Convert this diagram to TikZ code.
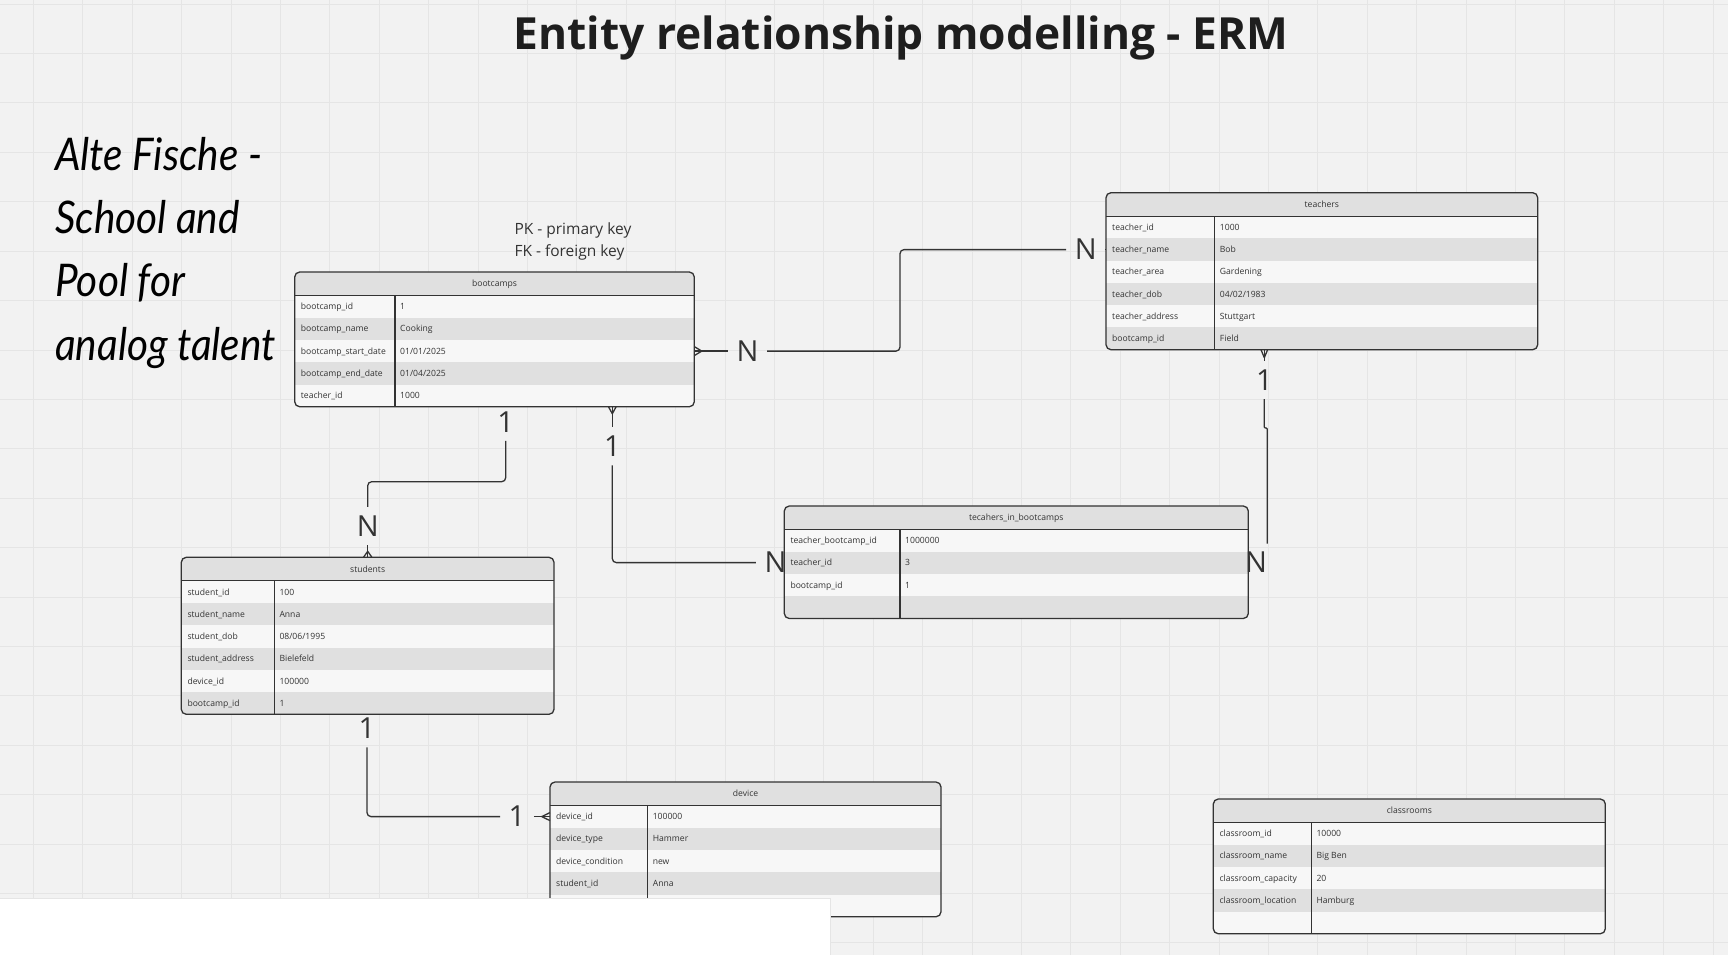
\documentclass[tikz,border=0pt]{standalone}
\usepackage{fontspec}
\setmainfont{Open Sans}
\newfontfamily\handfont{Lato}[FakeStretch=0.9]

\definecolor{canvas}{HTML}{F2F2F2}
\definecolor{gridgray}{HTML}{E5E5E5}
\definecolor{headgray}{HTML}{E0E0E0}
\definecolor{rowlight}{HTML}{F7F7F7}
\definecolor{rowdark}{HTML}{E0E0E0}
\definecolor{inkgray}{HTML}{333333}
\definecolor{titleink}{HTML}{1E1E1E}

% table: name, left, top, right, key column, rows, title, key/value list
\newcommand{\erdtable}[8]{%
  \pgfmathsetmacro{\erdhead}{#3+23.5}
  \pgfmathsetmacro{\erdbot}{#3+23.5+22.25*#6}
  \pgfmathsetmacro{\erdw}{#4-#2}
  \pgfmathsetmacro{\erdh}{23.5+22.25*#6}
  \begin{scope}
    \clip[rounded corners=5pt] (#2,#3) rectangle (#4,\erdbot);
    \fill[rowlight] (#2,\erdhead) rectangle (#4,\erdbot);
    \fill[headgray] (#2,#3) rectangle (#4,\erdhead);
    \foreach \erdkey/\erdval [count=\rowno] in {#8} {
      \ifodd\rowno\relax\else
        \fill[rowdark] (#2,{\erdhead+22.25*(\rowno-1)}) rectangle (#4,{\erdhead+22.25*\rowno});
      \fi
    }
  \end{scope}
  \node[tablebox, minimum width=\erdw pt, minimum height=\erdh pt, anchor=north west] (#1) at (#2,#3) {};
  \draw[tableline] (#2,\erdhead) -- (#4,\erdhead);
  \draw[tableline] (#5,\erdhead) -- (#5,\erdbot);
  \node[headtext] (#1-title) at ({(#2+#4)/2},#3+11.75) {#7};
  \foreach \erdkey/\erdval [count=\rowno] in {#8} {
    \node[cell] (#1-\rowno) at (#2+6,{\erdhead+22.25*(\rowno-0.5)}) {\erdkey};
    \node[cell] (#1-\rowno-v) at (#5+5,{\erdhead+22.25*(\rowno-0.5)}) {\erdval};
  }
}

\begin{document}
\begin{tikzpicture}[x=1pt,y=-1pt]
\tikzstyle{gridline}=[draw=gridgray, line width=1pt]
\tikzstyle{tablebox}=[draw=inkgray, line width=1.3pt, rounded corners=5pt, inner sep=0pt, outer sep=0pt]
\tikzstyle{tableline}=[draw=inkgray, line width=1.3pt]
\tikzstyle{cell}=[anchor=west, inner sep=0pt, text=inkgray, font=\fontsize{8.6}{10}\selectfont, text height=6.2pt, text depth=0pt]
\tikzstyle{headtext}=[cell, anchor=center]
\tikzstyle{card}=[text=inkgray, inner sep=8.5pt, font=\fontsize{29}{29}\selectfont]
\tikzstyle{conn}=[draw=inkgray, line width=1.3pt, rounded corners=4pt]

\useasboundingbox (0,0) rectangle (1728,955);
\fill[canvas] (0,0) rectangle (1728,955);
\foreach \gx in {0,...,34} \draw[gridline] ({33.5+49.4*\gx},0) -- ({33.5+49.4*\gx},955);
\foreach \gy in {0,...,19} \draw[gridline] (0,{4.2+49.4*\gy}) -- (1728,{4.2+49.4*\gy});

\erdtable{bootcamps}{294.7}{272}{694.3}{395}{5}{bootcamps}{bootcamp\_id/1, bootcamp\_name/Cooking, bootcamp\_start\_date/{01/01/2025}, bootcamp\_end\_date/{01/04/2025}, teacher\_id/1000}
\erdtable{teachers}{1106}{192.7}{1537.7}{1214.7}{6}{teachers}{teacher\_id/1000, teacher\_name/Bob, teacher\_area/Gardening, teacher\_dob/{04/02/1983}, teacher\_address/Stuttgart, bootcamp\_id/Field}
\erdtable{students}{181.3}{557.3}{554}{274.3}{6}{students}{student\_id/100, student\_name/Anna, student\_dob/{08/06/1995}, student\_address/Bielefeld, device\_id/100000, bootcamp\_id/1}
\erdtable{tib}{784.3}{506}{1248.3}{900}{4}{tecahers\_in\_bootcamps}{teacher\_bootcamp\_id/1000000, teacher\_id/3, bootcamp\_id/1, {}/{}}
\erdtable{device}{550}{782}{941}{647.6}{5}{device}{device\_id/100000, device\_type/Hammer, device\_condition/new, student\_id/Anna, {}/{}}
\erdtable{classrooms}{1213.3}{799}{1605.3}{1311.3}{5}{classrooms}{classroom\_id/10000, classroom\_name/Big Ben, classroom\_capacity/20, classroom\_location/Hamburg, {}/{}}

% cardinalities
\node[card] (nB) at (747.5,351.1) {N};
\node[card] (nT) at (1085.7,249.6) {N};
\node[card] (oneA) at (505.7,421.7) {1};
\node[card] (nS) at (367.7,526) {N};
\node[card] (oneB) at (612.3,446.3) {1};
\node[card] (nL) at (775.6,562.6) {N};
\node[card] (oneC) at (1264.3,380) {1};
\node[card] (nR) at (1256,562.6) {N};
\node[card] (oneD) at (367,728.3) {1};
\node[card] (oneE) at (517,816.6) {1};
\coordinate (jogR) at (1267.3,428);

% bootcamps - teachers
\draw[conn] (nB -| bootcamps.east) -- (nB);
\draw[conn] (nB) -| (900,300) |- (nT);
\draw[conn] (nT) -- (nT -| teachers.west);
\draw[conn, shift={(nB -| bootcamps.east)}] (7.5,0) -- (0,-4.5) (7.5,0) -- (0,4.5);

% bootcamps - students
\draw[conn] (oneA) -- (505.7,481.7) -| (nS);
\draw[conn] (nS) -- (nS |- students.north);
\draw[conn, shift={(nS |- students.north)}] (0,-6) -- (-4.2,0) (0,-6) -- (4.2,0);

% bootcamps - tecahers_in_bootcamps
\draw[conn] (oneB |- bootcamps.south) -- (oneB);
\draw[conn] (oneB) |- (nL);
\draw[conn, shift={(oneB |- bootcamps.south)}] (0,7) -- (-3.8,0) (0,7) -- (3.8,0);

% teachers - tecahers_in_bootcamps
\draw[conn] (oneC |- teachers.south) -- (oneC);
\draw[conn, rounded corners=1pt] (oneC) -- (1264.3,428) -- (jogR) -- (jogR |- nR.north);
\draw[conn, shift={(oneC |- teachers.south)}] (0,8) -- (-3.3,0) (0,8) -- (3.3,0);

% students - device
\draw[conn] (oneD) |- (oneE);
\draw[conn] (oneE) -- (oneE -| device.west);
\draw[conn, shift={(oneE -| device.west)}] (-8.3,0) -- (0,-4) (-8.3,0) -- (0,4);

% white panel bottom left
\fill[white] (0,897.7) rectangle (830.6,960);
\draw[gridgray] (0,897.7) -- (830.6,897.7) -- (830.6,955);

% texts
\node[anchor=base, text=titleink, font=\bfseries\fontsize{44.3}{50}\selectfont] (title) at (901,49.3) {Entity relationship modelling - ERM};
\node[anchor=base west, inner sep=0pt, align=left, text=black, font=\handfont\itshape\fontsize{45}{63.2}\selectfont] (school) at (55,360) {Alte Fische -\\School and\\Pool for\\analog talent};
\node[anchor=base west, inner sep=0pt, align=left, text=inkgray, font=\fontsize{15.5}{21.8}\selectfont] (keys) at (514.3,256) {PK - primary key\\FK - foreign key};
\end{tikzpicture}
\end{document}
